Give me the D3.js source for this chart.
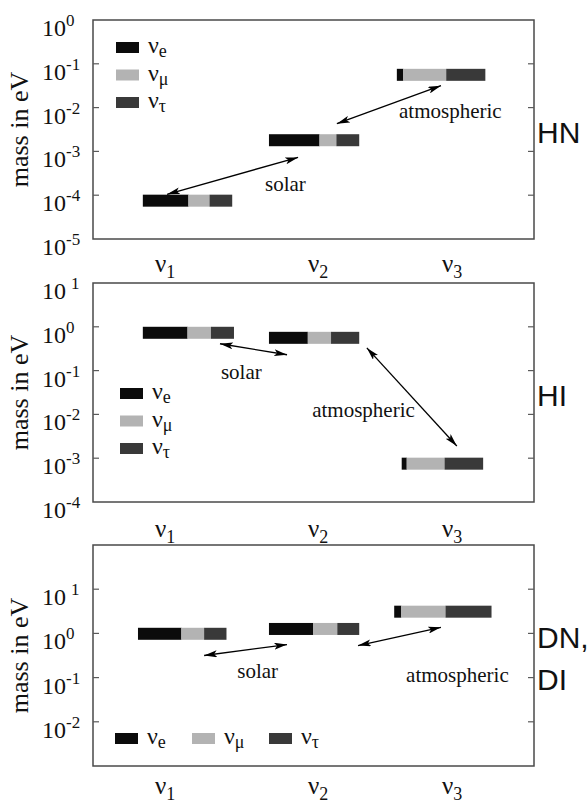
<!DOCTYPE html>
<html>
<head>
<meta charset="utf-8">
<script src="https://cdn.jsdelivr.net/npm/d3@7"></script>
<style>
  body { margin: 0; background: #fff; }
  text { font-family: "Liberation Serif", "DejaVu Serif", serif; fill: #111; }
</style>
</head>
<body>
<svg></svg>
<script>
// flavour content of each mass state
var flavours = ["e", "μ", "τ"];
var flavourColours = ["#0b0b0b", "#b3b3b3", "#393939"];
var states = ["1", "2", "3"];

// HN: hierarchical normal
var hnMass = [7.5e-5, 1.8e-3, 0.056];
var hnMix = [[0.51, 0.24, 0.25], [0.56, 0.19, 0.25], [0.07, 0.49, 0.44]];
// HI: hierarchical inverted
var hiMass = [0.73, 0.56, 7.5e-4];
var hiMix = [[0.49, 0.26, 0.25], [0.43, 0.26, 0.31], [0.06, 0.47, 0.47]];
// DN, DI: degenerate
var dgMass = [0.98, 1.26, 3.1];
var dgMix = [[0.49, 0.26, 0.25], [0.49, 0.27, 0.24], [0.07, 0.46, 0.47]];

var hnTicks = [0, -1, -2, -3, -4, -5];
var hiTicks = [1, 0, -1, -2, -3, -4];
var dgTicks = [1, 0, -1, -2];

var width = 588;
var height = 806;

var panels = [
    { name: ["HN"], mass: hnMass, mix: hnMix, ticks: hnTicks, domain: [1e-5, 1e0],
      top: 20, bottom: 239, labelY: 272, nameY: [143],
      bars: [[1.13, 2.02], [3.99, 2.04], [6.89, 2.0]],
      legend: { x: 116, y: 42, dir: "v" },
      arrows: [
        { from: [1.68, 1.05e-4], to: [4.65, 7.3e-4], text: "solar", at: [3.90, 1.23e-4] },
        { from: [5.53, 4.3e-3], to: [7.89, 3.16e-2], text: "atmospheric", at: [6.94, 5.9e-3] }
      ] },
    { name: ["HI"], mass: hiMass, mix: hiMix, ticks: hiTicks, domain: [1e-4, 1e1],
      top: 283, bottom: 502, labelY: 537, nameY: [406],
      bars: [[1.13, 2.06], [3.99, 2.04], [7.0, 1.84]],
      legend: { x: 120, y: 388, dir: "v" },
      arrows: [
        { from: [2.88, 0.41], to: [4.40, 0.23], text: "solar", at: [2.90, 0.066] },
        { from: [6.21, 0.33], to: [8.25, 1.9e-3], text: "atmospheric", at: [4.97, 8.5e-3] }
      ] },
    { name: ["DN,", "DI"], mass: dgMass, mix: dgMix, ticks: dgTicks, domain: [1e-3, 1e2],
      top: 545, bottom: 766, labelY: 794, nameY: [648, 690],
      bars: [[1.02, 2.0], [3.99, 2.04], [6.83, 2.2]],
      legend: { x: 115, y: 733, dir: "h" },
      arrows: [
        { from: [2.52, 0.316], to: [4.40, 0.56], text: "solar", at: [3.27, 0.1] },
        { from: [6.01, 0.53], to: [7.89, 1.37], text: "atmospheric", at: [7.10, 0.081] }
      ] }
];

var left = 93, right = 534;
var stateLabelX = [155, 308, 442];

var svg = d3.select('svg')
    .attr('width', width)
    .attr('height', height)
    .attr('xmlns', 'http://www.w3.org/2000/svg');

svg.append('defs').append('marker')
    .attr('id', 'head')
    .attr('viewBox', '0 0 13 7')
    .attr('refX', 13)
    .attr('refY', 3.5)
    .attr('markerWidth', 13)
    .attr('markerHeight', 7)
    .attr('markerUnits', 'userSpaceOnUse')
    .attr('orient', 'auto-start-reverse')
    .append('path')
    .attr('d', 'M0,0 L13,3.5 L0,7 L3,3.5 z')
    .attr('fill', '#000');

var x = d3.scaleLinear().domain([0, 10]).range([left, right]);

panels.forEach(function (p) {
    var y = d3.scaleLog().domain(p.domain).range([p.bottom, p.top]);
    var g = svg.append('g');

    // frame
    g.append('rect')
        .attr('x', left).attr('y', p.top)
        .attr('width', right - left).attr('height', p.bottom - p.top)
        .attr('fill', 'none').attr('stroke', '#4a4a4a').attr('stroke-width', 1.5);

    // inner ticks on both sides
    var inner = p.ticks.filter(function (e) {
        var v = Math.pow(10, e);
        return v > p.domain[0] * 1.01 && v < p.domain[1] * 0.99;
    });
    g.selectAll('.tl').data(inner).enter().append('line')
        .attr('x1', left).attr('x2', left + 6)
        .attr('y1', function (e) { return y(Math.pow(10, e)); })
        .attr('y2', function (e) { return y(Math.pow(10, e)); })
        .attr('stroke', '#5a5a5a').attr('stroke-width', 1.2);
    g.selectAll('.tr').data(inner).enter().append('line')
        .attr('x1', right - 6).attr('x2', right)
        .attr('y1', function (e) { return y(Math.pow(10, e)); })
        .attr('y2', function (e) { return y(Math.pow(10, e)); })
        .attr('stroke', '#5a5a5a').attr('stroke-width', 1.2);

    // tick labels 10^n
    var tl = g.selectAll('.tick-label').data(p.ticks).enter().append('text')
        .attr('x', 42)
        .attr('y', function (e) { return y(Math.pow(10, e)) + 16; })
        .style('font-size', '24px');
    tl.append('tspan').text('10');
    tl.append('tspan')
        .attr('dy', -10)
        .attr('dx', function (e) { return e > 0 ? 5 : 0; })
        .style('font-size', '17px')
        .text(function (e) { return String(e); });

    // axis title
    g.append('text')
        .attr('transform', 'translate(28,' + ((p.top + p.bottom) / 2) + ') rotate(-90)')
        .attr('text-anchor', 'middle')
        .style('font-size', '26px')
        .text('mass in eV');

    // stacked flavour bars
    p.mass.forEach(function (m, i) {
        var x0 = p.bars[i][0], len = p.bars[i][1];
        var acc = 0;
        var segs = p.mix[i].map(function (f, k) {
            var s = { k: k, a: acc, b: acc + f };
            acc += f;
            return s;
        });
        g.selectAll('.bar' + i).data(segs).enter().append('rect')
            .attr('x', function (s) { return x(x0 + s.a * len / acc); })
            .attr('width', function (s) { return x(x0 + s.b * len / acc) - x(x0 + s.a * len / acc) + 0.3; })
            .attr('y', y(m) - 6)
            .attr('height', 12)
            .attr('fill', function (s) { return flavourColours[s.k]; });
    });

    // arrows and labels
    p.arrows.forEach(function (a) {
        g.append('line')
            .attr('x1', x(a.from[0])).attr('y1', y(a.from[1]))
            .attr('x2', x(a.to[0])).attr('y2', y(a.to[1]))
            .attr('stroke', '#000').attr('stroke-width', 1.3)
            .attr('marker-start', 'url(#head)')
            .attr('marker-end', 'url(#head)');
        g.append('text')
            .attr('x', x(a.at[0])).attr('y', y(a.at[1]))
            .style('font-size', '21px')
            .text(a.text);
    });

    // legend
    var lg = g.selectAll('.legend').data(flavours).enter().append('g')
        .attr('transform', function (d, k) {
            return p.legend.dir === 'v'
                ? 'translate(' + p.legend.x + ',' + (p.legend.y + k * 27.5) + ')'
                : 'translate(' + (p.legend.x + k * 77) + ',' + p.legend.y + ')';
        });
    lg.append('rect')
        .attr('width', 23).attr('height', 11)
        .attr('fill', function (d, k) { return flavourColours[k]; });
    var lt = lg.append('text').attr('x', 32).attr('y', 11).style('font-size', '24px');
    lt.append('tspan').text('ν');
    lt.append('tspan').attr('dy', 4).style('font-size', '18px').text(function (d) { return d; });

    // mass state labels
    var sl = g.selectAll('.state').data(states).enter().append('text')
        .attr('x', function (d, i) { return stateLabelX[i]; })
        .attr('y', p.labelY)
        .style('font-size', '25px');
    sl.append('tspan').text('ν');
    sl.append('tspan').attr('dy', 6).style('font-size', '18px').text(function (d) { return d; });

    // scenario name
    g.selectAll('.name').data(p.name).enter().append('text')
        .attr('x', 537)
        .attr('y', function (d, i) { return p.nameY[i]; })
        .style('font-family', '"Liberation Sans", Arial, sans-serif')
        .style('font-size', '30px')
        .text(function (d) { return d; });
});
</script>
</body>
</html>
